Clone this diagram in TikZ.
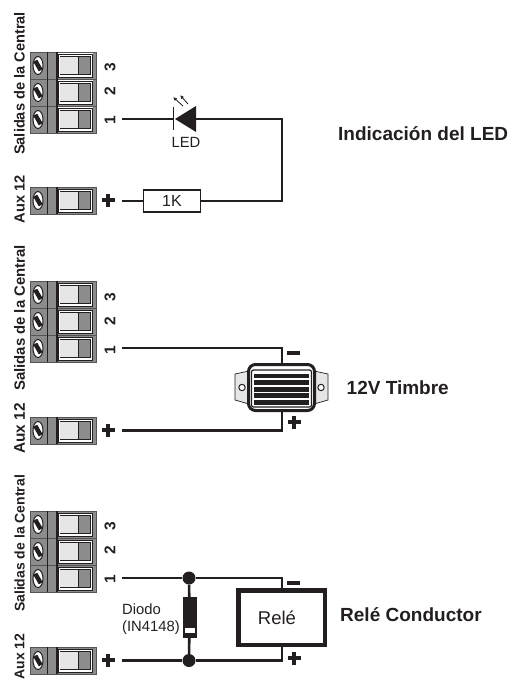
\documentclass[tikz,border=0pt]{standalone}
\usepackage{fontspec}
\usetikzlibrary{arrows.meta}
\setmainfont{Liberation Sans}
\newcommand{\fs}[1]{\fontsize{#1}{#1}\selectfont}
\definecolor{tgrey}{HTML}{8C8C8C}
\definecolor{tlight}{HTML}{E6E6E6}
\definecolor{ink}{HTML}{231F20}
% one terminal row: #1 = name, #2 = top y
\newcommand{\termrow}[2]{%
  \node[rowbody] (#1) at (63,#2+13.5) {};
  \draw[ink,line width=1pt,fill=white] (38,#2+13.5) ellipse (5 and 9);
  \fill[ink,rotate around={-60:(38,#2+13.5)}] (32.5,#2+11.3) rectangle (43.5,#2+15.7);
  \draw[ink,line width=1pt] (47,#2) -- (47,#2+27);
  \draw[ink,line width=1.2pt] (57,#2) -- (57,#2+27);
  \fill[white] (57.5,#2+1.5) rectangle (93,#2+25.5);
  \draw[ink,line width=.9pt] (58.5,#2+2.5) rectangle (92,#2+25);
  \draw[ink,line width=.7pt] (60,#2+4.5) rectangle (90,#2+22.5);
  \fill[tlight] (60.3,#2+4.8) rectangle (78,#2+22.2);
  \fill[tgrey] (78,#2+4.8) rectangle (89.7,#2+22.2);
  \draw[ink,line width=.7pt] (78,#2+4.5) -- (78,#2+22.5);
}
\tikzset{
  rowbody/.style={draw=tgrey!60!black,fill=tgrey,line width=.7pt,minimum width=66pt,minimum height=27pt,inner sep=0pt,outer sep=0pt},
  wire/.style={draw=ink,line width=2.6pt},
  sidelabel/.style={font=\fs{14.6}\bfseries,rotate=90,text=ink,inner sep=0pt},
  numlabel/.style={font=\fs{15.5}\bfseries,rotate=90,text=ink,inner sep=0pt},
  title/.style={font=\fs{19}\bfseries,text=ink,inner sep=0pt},
  small/.style={font=\fs{14.8},text=ink,inner sep=0pt},
  dot/.style={circle,fill=ink,minimum size=13pt,inner sep=0pt},
}
\newcommand{\plussign}[2]{\fill[ink] (#1-6.5,#2-2) rectangle (#1+6.5,#2+2); \fill[ink] (#1-2,#2-6.5) rectangle (#1+2,#2+6.5);}
\newcommand{\minussign}[2]{\fill[ink] (#1-6.5,#2-1.7) rectangle (#1+6.5,#2+1.7);}
\begin{document}
\begin{tikzpicture}[x=1pt,y=-1pt]
\useasboundingbox (0,0) rectangle (510,679);

% ===== Group 1 =====
\termrow{aA}{52}\termrow{aB}{79}\termrow{aC}{106}
\termrow{aD}{187}
\node[sidelabel] (s1) at (19.5,83.5) {Salidas de la Central};
\node[sidelabel] (x1) at (19.5,199.5) {Aux 12};
\node[numlabel] (n13) at (110,67) {3};
\node[numlabel] (n12) at (110,91) {2};
\node[numlabel] (n11) at (110,120) {1};
\plussign{108}{200}
\coordinate (w1a) at (122,119);
\coordinate (w1b) at (122,201);
\coordinate (c1) at (282,119);
\coordinate (c2) at (282,201);
\node[draw=ink,line width=1.3pt,fill=white,minimum width=57pt,minimum height=22pt,inner sep=0pt,font=\fs{16},text=ink] (res) at (172,201) {1K};
\coordinate (ledk) at (174,119);
\coordinate (leda) at (196,119);
\draw[wire] (w1a) -- (ledk);
\draw[wire] (leda) -- (c1) -- (c2) -- (res);
\draw[wire] (w1b) -- (res);
\fill[ink] (196,106) -- (175,119) -- (196,132) -- cycle;
\draw[ink,line width=1.6pt] (173.5,107) -- (173.5,130.5);
\draw[ink,line width=.8pt,-{Latex[length=4pt,width=3.5pt]}] (188,104) -- (180,95);
\draw[ink,line width=.8pt,-{Latex[length=4pt,width=3.5pt]}] (183,106) -- (173,97);
\node[small] (led) at (186,142) {LED};
\node[title,anchor=west] (t1) at (338,134) {Indicación del LED};

% ===== Group 2 =====
\termrow{bA}{281}\termrow{bB}{308}\termrow{bC}{335}
\termrow{bD}{417}
\node[sidelabel,font=\fs{14.9}\bfseries] (s2) at (19.5,318) {Salidas de la Central};
\node[sidelabel,font=\fs{15.4}\bfseries] (x2) at (19.5,428.5) {Aux 12};
\node[numlabel] (n23) at (110,297) {3};
\node[numlabel] (n22) at (110,321) {2};
\node[numlabel] (n21) at (110,350) {1};
\plussign{108}{430}
\coordinate (w2a) at (122,348);
\coordinate (w2b) at (122,430.5);
\coordinate (c3) at (282,348);
\coordinate (c4) at (282,430.5);
% buzzer ears
\draw[ink,line width=.7pt,fill=tlight] (249,371) -- (235,374) -- (235,400) -- (249,404) -- cycle;
\draw[ink,line width=.7pt,fill=tlight] (314,371) -- (328,374) -- (328,400) -- (314,404) -- cycle;
\draw[ink,line width=1pt,fill=white] (242,387.5) circle (3.2);
\draw[ink,line width=1pt,fill=white] (321,387.5) circle (3.2);
\node[draw=ink,line width=3pt,fill=white,rounded corners=7pt,minimum width=66pt,minimum height=46pt,inner sep=0pt] (buz) at (281.5,387.5) {};
\draw[ink,line width=1.2pt,rounded corners=2pt] (251.5,370) rectangle (311.5,407);
\foreach \yy in {376,382.5,389.5,395.5,402.5}{\fill[ink] (254,\yy-2.4) rectangle (309,\yy+2.4);}
\draw[wire] (w2a) -- (c3) -- (buz.north -| c3);
\draw[wire] (w2b) -- (c4) -- (buz.south -| c4);
\minussign{293.5}{353}
\plussign{294}{422}
\node[title,anchor=west] (t2) at (346.5,388) {12V Timbre};

% ===== Group 3 =====
\termrow{cA}{511}\termrow{cB}{538}\termrow{cC}{565}
\termrow{cD}{647}
\node[sidelabel,font=\fs{14}\bfseries] (s3) at (19.5,543.5) {Salidas de la Central};
\node[sidelabel,font=\fs{14}\bfseries] (x3) at (19.5,656.5) {Aux 12};
\node[numlabel] (n33) at (110,526) {3};
\node[numlabel] (n32) at (110,550) {2};
\node[numlabel] (n31) at (110,579) {1};
\plussign{108}{660}
\coordinate (w3a) at (122,578);
\coordinate (w3b) at (122,660.5);
\node[dot] (d1) at (189,578) {};
\node[dot] (d2) at (189,660.5) {};
\node[draw=ink,line width=4.5pt,fill=white,minimum width=86.5pt,minimum height=54.5pt,inner sep=0pt,font=\fs{18.5},text=ink] (rel) at (281.5,617.5) {\hspace*{-9pt}Relé};
\coordinate (c5) at (282,578);
\coordinate (c6) at (282,660.5);
\draw[wire] (w3a) -- (d1) -- (c5) -- (rel.north -| c5);
\draw[wire] (w3b) -- (d2) -- (c6) -- (rel.south -| c6);
\node[draw=ink,fill=ink,minimum width=12.5pt,minimum height=40pt,inner sep=0pt] (dio) at (189.5,617) {};
\draw[wire] (d1) -- (dio);
\draw[wire] (d2) -- (dio);
\fill[white] (184.5,628) rectangle (194.5,633);
\minussign{293.5}{583}
\plussign{294}{658}
\node[small,anchor=west] (dl1) at (122,609) {Diodo};
\node[small,anchor=west] (dl2) at (122,628) {(IN4148)};
\node[title,anchor=west] (t3) at (340,615) {Relé Conductor};
\end{tikzpicture}
\end{document}
